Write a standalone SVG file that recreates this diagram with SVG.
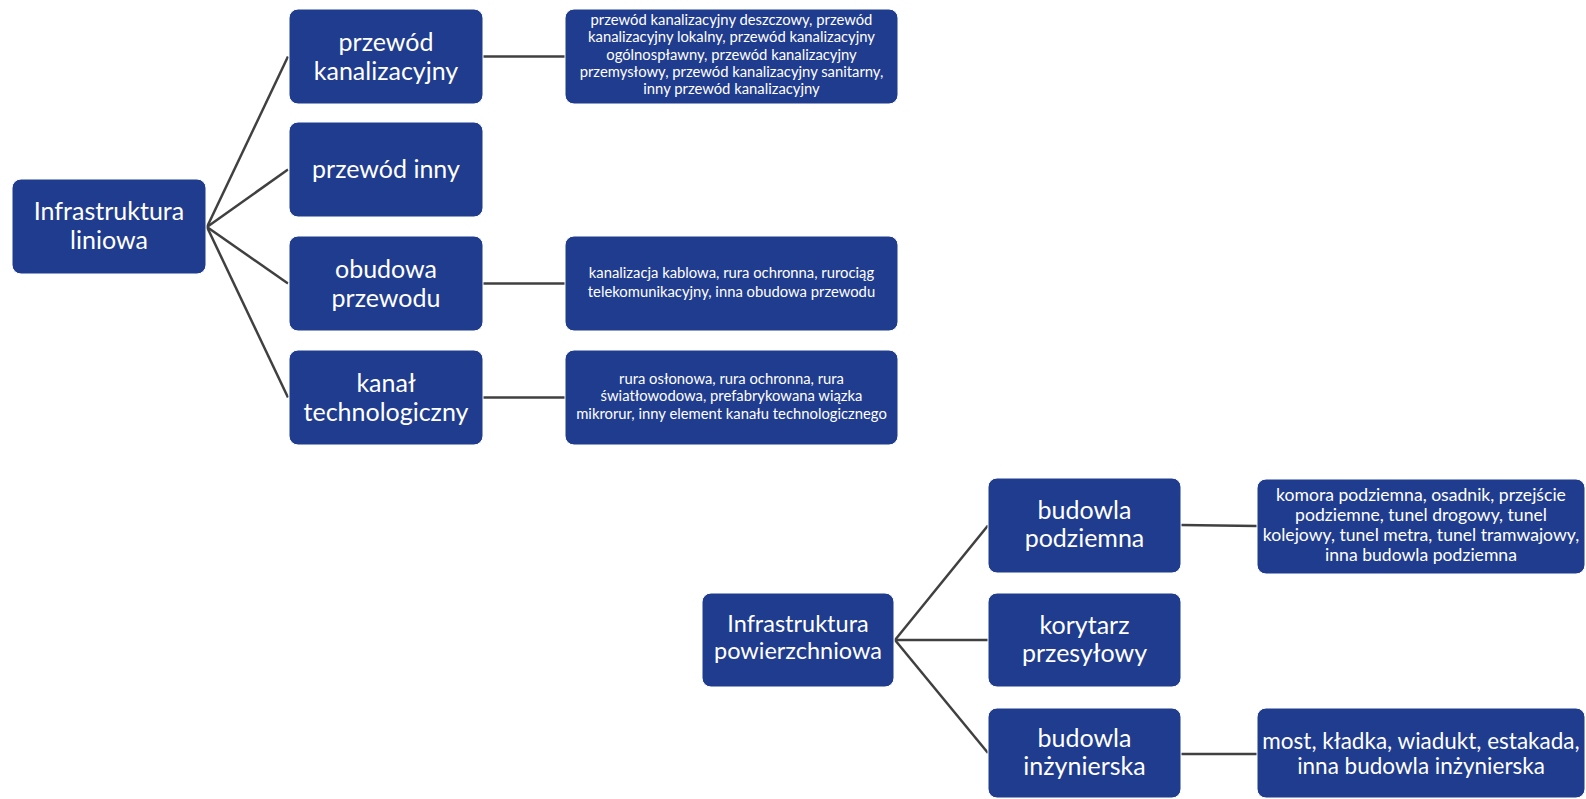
<svg xmlns="http://www.w3.org/2000/svg" width="1586" height="799" viewBox="0 0 1586 799">
<style>
.box{fill:#1f3c8e;stroke:#ffffff;stroke-width:1}
.t{font-family:Lato,"Liberation Sans",sans-serif;fill:#ffffff;text-anchor:middle}
.l{font-size:25px}
.m{font-size:23.5px}
.s{font-size:14.8px}
.s17{font-size:17.6px}
.s21{font-size:22.5px}
.c{stroke:#404040;stroke-width:2.5;fill:none}
</style>
<rect width="1586" height="799" fill="#ffffff"/>
<g id="connectors">
<line class="c" x1="207" y1="227" x2="288" y2="56.5"/>
<line class="c" x1="207" y1="227" x2="288" y2="169.5"/>
<line class="c" x1="207" y1="227" x2="288" y2="283.5"/>
<line class="c" x1="207" y1="227" x2="288" y2="397.5"/>
<line class="c" x1="483" y1="56.5" x2="565" y2="56.5"/>
<line class="c" x1="483" y1="283.5" x2="565" y2="283.5"/>
<line class="c" x1="483" y1="397.5" x2="565" y2="397.5"/>
<line class="c" x1="895" y1="640" x2="988" y2="525.5"/>
<line class="c" x1="895" y1="640" x2="988" y2="640"/>
<line class="c" x1="895" y1="640" x2="988" y2="753"/>
<line class="c" x1="1181" y1="525" x2="1257" y2="526"/>
<line class="c" x1="1181" y1="754" x2="1257" y2="754"/>
</g>
<g id="n-liniowa">
<rect class="box" x="12" y="179" width="194" height="95" rx="9"/>
<text class="t l" x="109" y="220">Infrastruktura</text>
<text class="t l" x="109" y="249">liniowa</text>
</g>
<g id="n-kanalizacyjny">
<rect class="box" x="289" y="9" width="194" height="95" rx="9"/>
<text class="t l" x="386" y="51">przewód</text>
<text class="t l" x="386" y="79.5">kanalizacyjny</text>
</g>
<g id="n-inny">
<rect class="box" x="289" y="122" width="194" height="95" rx="9"/>
<text class="t l" x="386" y="178">przewód inny</text>
</g>
<g id="n-obudowa">
<rect class="box" x="289" y="236" width="194" height="95" rx="9"/>
<text class="t l" x="386" y="278">obudowa</text>
<text class="t l" x="386" y="306.5">przewodu</text>
</g>
<g id="n-kanal">
<rect class="box" x="289" y="350" width="194" height="95" rx="9"/>
<text class="t l" x="386" y="392">kanał</text>
<text class="t l" x="386" y="420.5">technologiczny</text>
</g>
<g id="n-kanalizacyjny-det">
<rect class="box" x="565" y="9" width="333" height="95" rx="9"/>
<text class="t s" x="731.5" y="25">przewód kanalizacyjny deszczowy, przewód</text>
<text class="t s" x="731.5" y="42.3">kanalizacyjny lokalny, przewód kanalizacyjny</text>
<text class="t s" x="731.5" y="59.6">ogólnospławny, przewód kanalizacyjny</text>
<text class="t s" x="731.5" y="76.9">przemysłowy, przewód kanalizacyjny sanitarny,</text>
<text class="t s" x="731.5" y="94.2">inny przewód kanalizacyjny</text>
</g>
<g id="n-obudowa-det">
<rect class="box" x="565" y="236" width="333" height="95" rx="9"/>
<text class="t s" x="731.5" y="278">kanalizacja kablowa, rura ochronna, rurociąg</text>
<text class="t s" x="731.5" y="297">telekomunikacyjny, inna obudowa przewodu</text>
</g>
<g id="n-kanal-det">
<rect class="box" x="565" y="350" width="333" height="95" rx="9"/>
<text class="t s" x="731.5" y="384">rura osłonowa, rura ochronna, rura</text>
<text class="t s" x="731.5" y="401.3">światłowodowa, prefabrykowana wiązka</text>
<text class="t s" x="731.5" y="418.6">mikrorur, inny element kanału technologicznego</text>
</g>
<g id="n-powierzchniowa">
<rect class="box" x="702" y="593" width="192" height="94" rx="9"/>
<text class="t m" x="798" y="632">Infrastruktura</text>
<text class="t m" x="798" y="659">powierzchniowa</text>
</g>
<g id="n-podziemna">
<rect class="box" x="988" y="478" width="193" height="95" rx="9"/>
<text class="t l" x="1084.5" y="519">budowla</text>
<text class="t l" x="1084.5" y="547">podziemna</text>
</g>
<g id="n-korytarz">
<rect class="box" x="988" y="593" width="193" height="94" rx="9"/>
<text class="t l" x="1084.5" y="634">korytarz</text>
<text class="t l" x="1084.5" y="662">przesyłowy</text>
</g>
<g id="n-inzynierska">
<rect class="box" x="988" y="708" width="193" height="90" rx="9"/>
<text class="t l" x="1084.5" y="747">budowla</text>
<text class="t l" x="1084.5" y="775">inżynierska</text>
</g>
<g id="n-podziemna-det">
<rect class="box" x="1257" y="479" width="328" height="95" rx="9"/>
<text class="t s17" x="1421" y="501">komora podziemna, osadnik, przejście</text>
<text class="t s17" x="1421" y="521">podziemne, tunel drogowy, tunel</text>
<text class="t s17" x="1421" y="541">kolejowy, tunel metra, tunel tramwajowy,</text>
<text class="t s17" x="1421" y="561">inna budowla podziemna</text>
</g>
<g id="n-inzynierska-det">
<rect class="box" x="1257" y="708" width="328" height="90" rx="9"/>
<text class="t s21" x="1421" y="749">most, kładka, wiadukt, estakada,</text>
<text class="t s21" x="1421" y="774">inna budowla inżynierska</text>
</g>
</svg>
